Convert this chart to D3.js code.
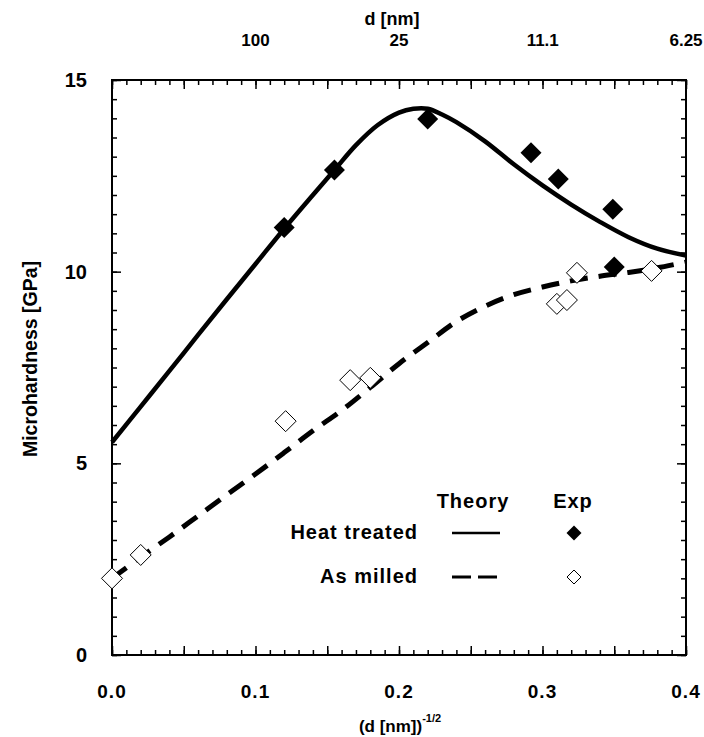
<!DOCTYPE html>
<html><head><meta charset="utf-8">
<script src="https://cdn.jsdelivr.net/npm/d3@7"></script>
<style>
body{margin:0;background:#fff}
text{font-family:"Liberation Sans",Arial,Helvetica,sans-serif;font-weight:bold;fill:#000}
</style>
</head><body>
<svg id="chart" width="704" height="737"></svg>
<script>
// ---- data ----
const heatTheoryX = [0,0.02,0.04,0.06,0.08,0.1,0.12,0.14,0.155,0.17,0.185,0.2,0.21,0.22,0.23,0.24,0.26,0.28,0.3,0.32,0.34,0.36,0.38,0.4];
const heatTheoryY = [5.55,6.48,7.41,8.35,9.28,10.2,11.12,12.0,12.65,13.3,13.82,14.15,14.25,14.25,14.1,13.9,13.4,12.8,12.25,11.75,11.3,10.9,10.6,10.42];
const milledTheoryX = [0,0.02,0.04,0.06,0.08,0.1,0.12,0.14,0.16,0.18,0.2,0.22,0.24,0.26,0.28,0.3,0.32,0.34,0.36,0.38,0.4];
const milledTheoryY = [2.0,2.55,3.08,3.63,4.18,4.72,5.28,5.85,6.38,6.98,7.6,8.15,8.7,9.1,9.4,9.6,9.76,9.88,9.98,10.1,10.25];
const heatExpX = [0.12,0.155,0.22,0.292,0.311,0.349,0.35];
const heatExpY = [11.15,12.65,13.98,13.1,12.42,11.63,10.12];
const milledExpX = [0.0,0.02,0.121,0.166,0.18,0.31,0.317,0.324,0.376];
const milledExpY = [2.0,2.61,6.1,7.17,7.23,9.16,9.26,9.97,10.02];
const xTickValues = [0,0.1,0.2,0.3,0.4];
const xTickLabels = ["0.0","0.1","0.2","0.3","0.4"];
const yTickValues = [0,5,10,15];
const yTickLabels = ["0","5","10","15"];
const topTickD = [100,25,11.1,6.25];
const topTickLabels = ["100","25","11.1","6.25"];
const legendRows = ["Heat treated","As milled"];

// ---- layout ----
const W = 704, H = 737;
const m = {left:112, right:18, top:80, bottom:82};
const svg = d3.select("#chart");
const x = d3.scaleLinear().domain([0,0.4]).range([m.left, W-m.right]);
const y = d3.scaleLinear().domain([0,15]).range([H-m.bottom, m.top]);
const x0 = x.range()[0], x1 = x.range()[1], y0 = y.range()[0], y1 = y.range()[1];

function ticks(axisFn, pos, vals, size){
  const g = svg.append("g").attr("transform", pos)
    .call(axisFn.tickValues(vals).tickSize(size).tickFormat(""));
  g.select(".domain").remove();
  g.selectAll("line").attr("stroke","#000").attr("stroke-width",1.5);
}
const xMinor = d3.range(0,0.4001,0.01), xMajor = d3.range(0,0.4001,0.05);
const yMinor = d3.range(0,15.001,0.5), yMajor = d3.range(0,15.001,5);
ticks(d3.axisBottom(x), `translate(0,${y0})`, xMinor, -5);
ticks(d3.axisBottom(x), `translate(0,${y0})`, xMajor, -9);
ticks(d3.axisTop(x), `translate(0,${y1})`, xMinor, -5);
ticks(d3.axisTop(x), `translate(0,${y1})`, xMajor, -9);
ticks(d3.axisLeft(y), `translate(${x0},0)`, yMinor, -5);
ticks(d3.axisLeft(y), `translate(${x0},0)`, yMajor, -9);
ticks(d3.axisRight(y), `translate(${x1},0)`, yMinor, -5);
ticks(d3.axisRight(y), `translate(${x1},0)`, yMajor, -9);

svg.append("rect").attr("x",x0).attr("y",y1).attr("width",x1-x0).attr("height",y0-y1)
  .attr("fill","none").attr("stroke","#000").attr("stroke-width",2);

// tick labels
svg.append("g").selectAll("text").data(xTickValues).join("text")
  .attr("x",d=>x(d)).attr("y",y0+43).attr("text-anchor","middle")
  .attr("font-size",19).attr("letter-spacing",1).text((d,i)=>xTickLabels[i]);
svg.append("g").selectAll("text").data(yTickValues).join("text")
  .attr("x",x0-25).attr("y",d=>y(d)).attr("dy","0.35em").attr("text-anchor","end")
  .attr("font-size",20).text((d,i)=>yTickLabels[i]);
svg.append("g").selectAll("text").data(topTickD).join("text")
  .attr("x",d=>x(1/Math.sqrt(d))).attr("y",y1-34).attr("text-anchor","middle")
  .attr("font-size",17).text((d,i)=>topTickLabels[i]);

// axis titles
svg.append("text").attr("x",392).attr("y",25).attr("text-anchor","middle")
  .attr("font-size",18).text("d [nm]");
const bt = svg.append("text").attr("x",400).attr("y",732).attr("text-anchor","middle").attr("font-size",17);
bt.append("tspan").text("(d [nm])");
bt.append("tspan").attr("dy",-10).attr("font-size",11).text("-1/2");
svg.append("text").attr("transform",`translate(37,359) rotate(-90)`)
  .attr("text-anchor","middle").attr("font-size",19.5).text("Microhardness [GPa]");

// curves
const line = d3.line().x(d=>x(d[0])).y(d=>y(d[1])).curve(d3.curveCatmullRom.alpha(0.5));
svg.append("path").datum(heatTheoryX.map((v,i)=>[v,heatTheoryY[i]]))
  .attr("d",line).attr("fill","none").attr("stroke","#000").attr("stroke-width",4.5);
svg.append("path").datum(milledTheoryX.map((v,i)=>[v,milledTheoryY[i]]))
  .attr("d",line).attr("fill","none").attr("stroke","#000").attr("stroke-width",5)
  .attr("stroke-dasharray","18,11");

// diamonds
function diamond(r){return `M0,${-r}L${r},0L0,${r}L${-r},0Z`;}
svg.append("g").selectAll("path").data(heatExpX.map((v,i)=>[v,heatExpY[i]])).join("path")
  .attr("transform",d=>`translate(${x(d[0])},${y(d[1])})`).attr("d",diamond(10.5)).attr("fill","#000");
svg.append("g").selectAll("path").data(milledExpX.map((v,i)=>[v,milledExpY[i]])).join("path")
  .attr("transform",d=>`translate(${x(d[0])},${y(d[1])})`).attr("d",diamond(10.5))
  .attr("fill","#fff").attr("stroke","#000").attr("stroke-width",1);

// legend
const lg = svg.append("g");
lg.append("text").attr("x",473).attr("y",508).attr("text-anchor","middle").attr("font-size",20).attr("letter-spacing",1).text("Theory");
lg.append("text").attr("x",573).attr("y",508).attr("text-anchor","middle").attr("font-size",20).attr("letter-spacing",1).text("Exp");
lg.append("text").attr("x",418).attr("y",539).attr("text-anchor","end").attr("font-size",20).attr("letter-spacing",1).text(legendRows[0]);
lg.append("text").attr("x",418).attr("y",583).attr("text-anchor","end").attr("font-size",20).attr("letter-spacing",1).text(legendRows[1]);
lg.append("line").attr("x1",452).attr("x2",500).attr("y1",533).attr("y2",533).attr("stroke","#000").attr("stroke-width",2.5);
lg.append("line").attr("x1",452).attr("x2",498).attr("y1",577).attr("y2",577).attr("stroke","#000").attr("stroke-width",3)
  .attr("stroke-dasharray","19,7");
lg.append("path").attr("transform","translate(574,533)").attr("d",diamond(7.5)).attr("fill","#000");
lg.append("path").attr("transform","translate(574,577)").attr("d",diamond(7)).attr("fill","#fff").attr("stroke","#000").attr("stroke-width",1);
</script>
</body></html>
